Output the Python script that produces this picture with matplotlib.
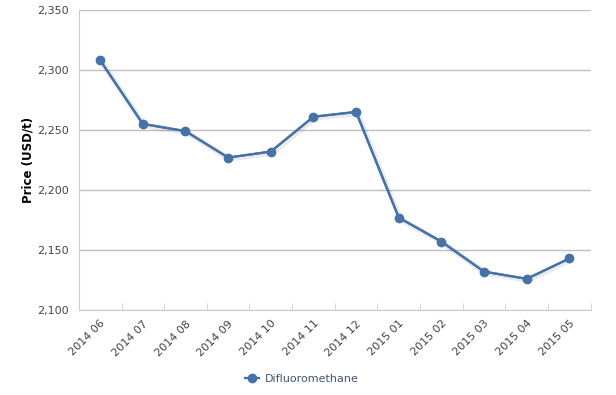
import matplotlib
matplotlib.use('Agg')
import matplotlib.pyplot as plt
import matplotlib.patheffects as pe

months = ['2014 06', '2014 07', '2014 08', '2014 09', '2014 10', '2014 11',
          '2014 12', '2015 01', '2015 02', '2015 03', '2015 04', '2015 05']
prices = [2308, 2255, 2249, 2227, 2232, 2261, 2265, 2177, 2157, 2132, 2126, 2143]
yticks = [2100, 2150, 2200, 2250, 2300, 2350]

fig = plt.figure(figsize=(6.16, 3.95), dpi=100)
ax = fig.add_axes([0.128, 0.215, 0.831, 0.76])

x = list(range(len(months)))
# soft shadow under the line only
ax.plot(x, prices, color='#4572A7', lw=1.6, zorder=2,
        path_effects=[pe.SimpleLineShadow(offset=(1, -1), shadow_color='#000000', alpha=0.08, linewidth=4),
                      pe.Normal()])
line, = ax.plot(x, prices, color='#4572A7', lw=1.6, marker='o', ms=6,
                label='Difluoromethane', zorder=3)

ax.set_xlim(-0.5, len(months) - 0.5)
ax.set_ylim(2100, 2350)
ax.set_yticks(yticks)
ax.set_yticklabels(['{:,}'.format(v) for v in yticks], color='#444444', fontsize=8)
ax.yaxis.grid(True, color='#C0C0C0', lw=1)
ax.set_axisbelow(True)
ax.tick_params(axis='y', length=0, pad=7)

# category boundary ticks
ax.set_xticks([i + 0.5 for i in x[:-1]] + [len(months) - 0.5], minor=True)
ax.set_xticks(x)
ax.set_xticklabels(months, rotation=45, ha='right', rotation_mode='anchor',
                   fontsize=8, color='#444444')
ax.tick_params(axis='x', which='major', length=0, pad=6)
ax.tick_params(axis='x', which='minor', length=5, color='#C0D0E0', direction='in')

for s in ['top', 'right']:
    ax.spines[s].set_visible(False)
ax.spines['left'].set_color('#C0D0E0')
ax.spines['bottom'].set_color('#C0D0E0')

ax.set_ylabel('Price (USD/t)', fontsize=8.5, fontweight='bold', labelpad=2)

fig.legend(handles=[line], loc='center', bbox_to_anchor=(0.49, 0.04), frameon=False,
           fontsize=8, labelcolor='#3E576F', handlelength=1.3, handletextpad=0.5)

fig.savefig('out.png', dpi=100, facecolor='white')
